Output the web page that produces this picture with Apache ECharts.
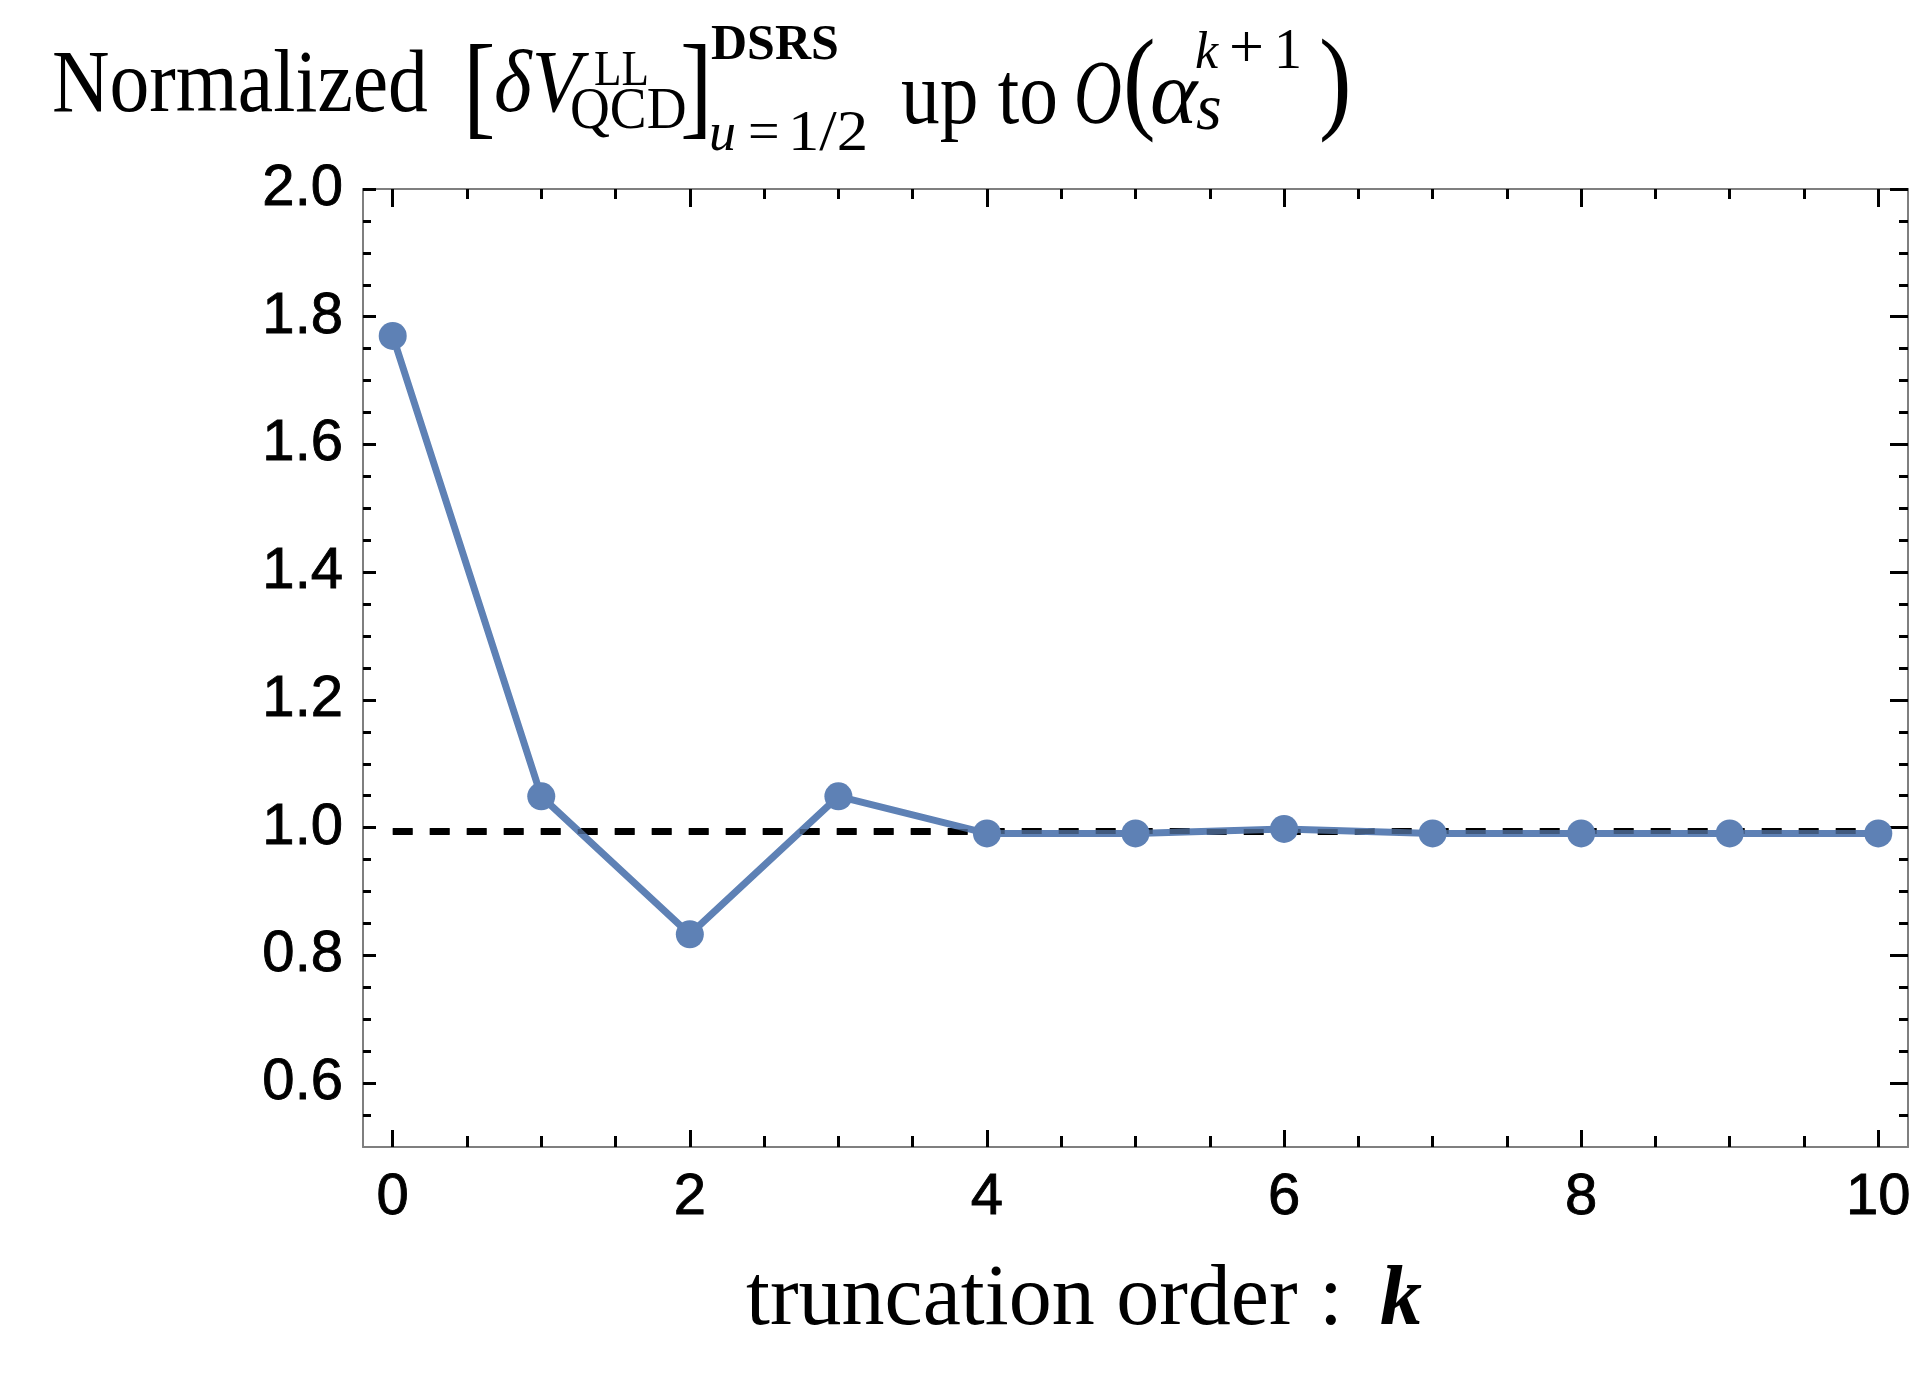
<!DOCTYPE html>
<html>
<head>
<meta charset="utf-8">
<script src="https://cdn.jsdelivr.net/npm/echarts@6/dist/echarts.min.js"></script>
<style>
html,body{margin:0;padding:0;background:#fff;}
#main{width:1915px;height:1397px;}
</style>
</head>
<body>
<div id="main"></div>
<script>
// ---- data ----
var kValues = [0, 1, 2, 3, 4, 5, 6, 7, 8, 9, 10];
var normalizedValues = [1.770, 1.049, 0.833, 1.049, 0.991, 0.991, 0.998, 0.991, 0.991, 0.991, 0.991];
var referenceLevel = 0.994;
var referenceRange = [0, 10];

// ---- ticks ----
var xMajorTicks = [0, 2, 4, 6, 8, 10];
var xMinorTicks = [0.5, 1, 1.5, 2.5, 3, 3.5, 4.5, 5, 5.5, 6.5, 7, 7.5, 8.5, 9, 9.5];
var yMajorTicks = [0.6, 0.8, 1.0, 1.2, 1.4, 1.6, 1.8, 2.0];
var yMinorTicks = [0.55, 0.65, 0.7, 0.75, 0.85, 0.9, 0.95, 1.05, 1.1, 1.15, 1.25, 1.3, 1.35,
                   1.45, 1.5, 1.55, 1.65, 1.7, 1.75, 1.85, 1.9, 1.95];

var BLUE = '#5E81B5';
var FRAME = '#7f7f7f';
var TICK = '#000';
var SERIF = '"Liberation Serif", "DejaVu Serif", serif';
var SANS = '"Liberation Sans", Arial, sans-serif';

var X_MIN = -0.2, X_MAX = 10.2, Y_MIN = 0.5, Y_MAX = 2.0;

function labelStyle(margin, fmt, values) {
  return {
    show: true, customValues: values, margin: margin, color: '#000',
    fontFamily: SANS, fontSize: 58,
    textBorderColor: '#000', textBorderWidth: 0.9,
    formatter: fmt
  };
}
function xAx(pos, ticks, len, showLine, labels) {
  return {
    type: 'value', position: pos, min: X_MIN, max: X_MAX,
    splitLine: {show: false},
    axisLine: {show: showLine, onZero: false, lineStyle: {color: FRAME, width: 2}},
    axisTick: {show: true, inside: true, length: len, customValues: ticks, lineStyle: {color: TICK, width: 3}},
    axisLabel: labels ? labelStyle(22, function (v) { return String(Math.round(v)); }, labels) : {show: false}
  };
}
function yAx(pos, ticks, len, showLine, labels) {
  return {
    type: 'value', position: pos, min: Y_MIN, max: Y_MAX,
    splitLine: {show: false},
    axisLine: {show: showLine, onZero: false, lineStyle: {color: FRAME, width: 2}},
    axisTick: {show: true, inside: true, length: len, customValues: ticks, lineStyle: {color: TICK, width: 3}},
    axisLabel: labels ? labelStyle(20, function (v) { return v.toFixed(1); }, labels) : {show: false}
  };
}

function T(text, x, base, size, opts) {
  opts = opts || {};
  var style = (opts.italic ? 'italic ' : '') + (opts.bold ? 'bold ' : '');
  return {
    type: 'text',
    x: x,
    y: base - 0.305 * size,
    scaleX: opts.sx || 1,
    z: 100,
    style: {
      text: text, x: 0, y: 0,
      font: style + size + 'px ' + SERIF,
      fill: '#000',
      align: 'left', verticalAlign: 'middle',
      textAlign: 'left', textVerticalAlign: 'middle'
    }
  };
}

var pts = kValues.map(function (k, i) { return [k, normalizedValues[i]]; });
var refPts = referenceRange.map(function (k) { return [k, referenceLevel]; });

var chart = echarts.init(document.getElementById('main'), null, {renderer: 'canvas'});
chart.setOption({
  backgroundColor: '#fff',
  animation: false,
  grid: {left: 363, top: 189, right: 7, bottom: 250, containLabel: false},
  xAxis: [
    xAx('bottom', xMajorTicks, 17, true, xMajorTicks),
    xAx('bottom', xMinorTicks, 11, false, null),
    xAx('top', xMajorTicks, 18, true, null),
    xAx('top', xMinorTicks, 10, false, null)
  ],
  yAxis: [
    yAx('left', yMajorTicks, 13, true, yMajorTicks),
    yAx('left', yMinorTicks, 8, false, null),
    yAx('right', yMajorTicks, 18, true, null),
    yAx('right', yMinorTicks, 9, false, null)
  ],
  series: [
    {
      type: 'line', data: refPts, z: 1, symbol: 'none', silent: true,
      lineStyle: {color: '#000', width: 7, type: [20, 17], cap: 'butt'}
    },
    {
      type: 'line', data: pts, z: 2, symbol: 'none', silent: true,
      lineStyle: {color: BLUE, width: 7}
    },
    {
      type: 'line', data: refPts, z: 3, symbol: 'none', silent: true,
      lineStyle: {color: 'rgba(0,0,0,0.3)', width: 5, type: [20, 17], cap: 'butt'}
    },
    {
      type: 'scatter', data: pts, z: 4, symbol: 'circle', symbolSize: 28, silent: true,
      itemStyle: {color: BLUE, opacity: 1}
    }
  ],
  graphic: [
    T('Normalized', 52, 115, 88, {sx: 0.905}),
    T('[', 463, 129, 115, {sx: 0.85}),
    T('\u03B4V', 494, 115, 88, {italic: true, sx: 0.92}),
    T('LL', 594, 87, 50, {sx: 0.9}),
    T('QCD', 570, 131, 60, {sx: 0.92}),
    T(']', 680, 129, 115, {sx: 0.85}),
    T('DSRS', 711, 61, 50, {bold: true}),
    T('u', 709, 152, 54, {italic: true}),
    T('=', 748, 152, 56),
    T('1/2', 788, 152, 56, {sx: 1.12}),
    T('up to', 901, 127, 88, {sx: 0.88}),
    T('O', 1074, 127, 92, {italic: true, sx: 0.72}),
    T('(', 1123, 123, 115, {sx: 0.85}),
    T('\u03B1', 1150, 127, 90, {italic: true}),
    T('k', 1195, 70, 52, {italic: true}),
    T('+', 1229, 70, 62),
    T('1', 1274, 70, 56),
    T('s', 1196, 132, 66, {italic: true}),
    T(')', 1319, 123, 115, {sx: 0.85}),
    T('truncation order :', 746, 1328, 86),
    T('k', 1380, 1328, 84, {italic: true, bold: true})
  ]
});
</script>
</body>
</html>
